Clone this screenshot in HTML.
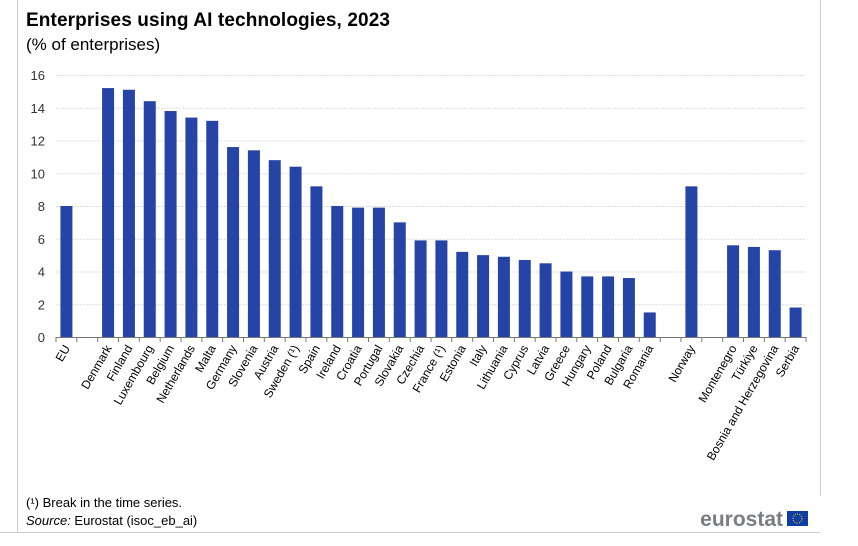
<!DOCTYPE html>
<html><head><meta charset="utf-8"><style>
body{margin:0;background:#fff;font-family:"Liberation Sans",sans-serif;}
svg text{font-family:"Liberation Sans",sans-serif;}
</style></head><body>
<svg width="858" height="541" xmlns="http://www.w3.org/2000/svg">
<line x1="17.5" y1="0" x2="17.5" y2="532" stroke="#ccc"/>
<line x1="820.5" y1="0" x2="820.5" y2="496" stroke="#ccc"/>
<line x1="0" y1="532.5" x2="820" y2="532.5" stroke="#ccc"/>
<text x="26" y="26" font-size="19" font-weight="bold" fill="#000" textLength="364">Enterprises using AI technologies, 2023</text>
<text x="26" y="50" font-size="17" fill="#000">(% of enterprises)</text>
<g id="grid"></g><g id="bars"></g><g id="xlabels"></g>
<text x="26" y="507" font-size="13" fill="#000">(¹) Break in the time series.</text>
<text x="26" y="525" font-size="13" fill="#000"><tspan font-style="italic">Source:</tspan> Eurostat (isoc_eb_ai)</text>
<text x="783" y="526" font-size="21" font-weight="bold" fill="#7a7d84" text-anchor="end">eurostat</text>
<rect x="787" y="511" width="21" height="15" fill="#0e3ea8"/>
<circle cx="797.5" cy="518.5" r="4.5" fill="none" stroke="#e8c800" stroke-width="1.2" stroke-dasharray="1 1.3"/>
</svg>
<script>
const categories=["EU","","Denmark","Finland","Luxembourg","Belgium","Netherlands","Malta","Germany","Slovenia","Austria","Sweden (¹)","Spain","Ireland","Croatia","Portugal","Slovakia","Czechia","France (¹)","Estonia","Italy","Lithuania","Cyprus","Latvia","Greece","Hungary","Poland","Bulgaria","Romania","","Norway","","Montenegro","Türkiye","Bosnia and Herzegovina","Serbia"];
const values=[8.0,null,15.2,15.1,14.4,13.8,13.4,13.2,11.6,11.4,10.8,10.4,9.2,8.0,7.9,7.9,7.0,5.9,5.9,5.2,5.0,4.9,4.7,4.5,4.0,3.7,3.7,3.6,1.5,null,9.2,null,5.6,5.5,5.3,1.8];
const yTicks=[0,2,4,6,8,10,12,14,16];
const NS="http://www.w3.org/2000/svg";
const x0=56,x1=806,yBase=337,yTop=75,yMax=16;
const slot=(x1-x0)/categories.length;
const y=v=>yBase-(v/yMax)*(yBase-yTop);
const xc=i=>x0+slot*(i+0.5);
const grid=document.getElementById('grid'),bars=document.getElementById('bars'),xl=document.getElementById('xlabels');
function mk(t,a,p){const e=document.createElementNS(NS,t);for(const k in a)e.setAttribute(k,a[k]);p.appendChild(e);return e;}
yTicks.forEach(t=>{
 const l=mk('line',{x1:x0,x2:x1,y1:y(t)+0.5,y2:y(t)+0.5,stroke:t===0?'#777':'#ddd','stroke-dasharray':t===0?'':'2 1'},grid);
 
 
 const tx=mk('text',{x:45,y:y(t)+5,'font-size':13,'text-anchor':'end',fill:'#333'},grid);
 tx.textContent=t;
 
 
});
for(let i=0;i<=categories.length;i++){
 const tk=mk('line',{x1:x0+slot*i,x2:x0+slot*i,y1:yBase,y2:yBase+5,stroke:'#777'},grid);
 
 
}
categories.forEach((c,i)=>{
 if(values[i]!=null){
  const r=mk('rect',{x:xc(i)-6,y:y(values[i]),width:12,height:yBase-y(values[i]),fill:'#2643a6'},bars);
  
  
 }
 if(c){
  const t=mk('text',{x:xc(i)+4,y:yBase+11,'font-size':12,'text-anchor':'end',fill:'#000',transform:`rotate(-60 ${xc(i)+4} ${yBase+11})`},xl);
  t.textContent=c;
  
  
 }
});
</script>
</body></html>
